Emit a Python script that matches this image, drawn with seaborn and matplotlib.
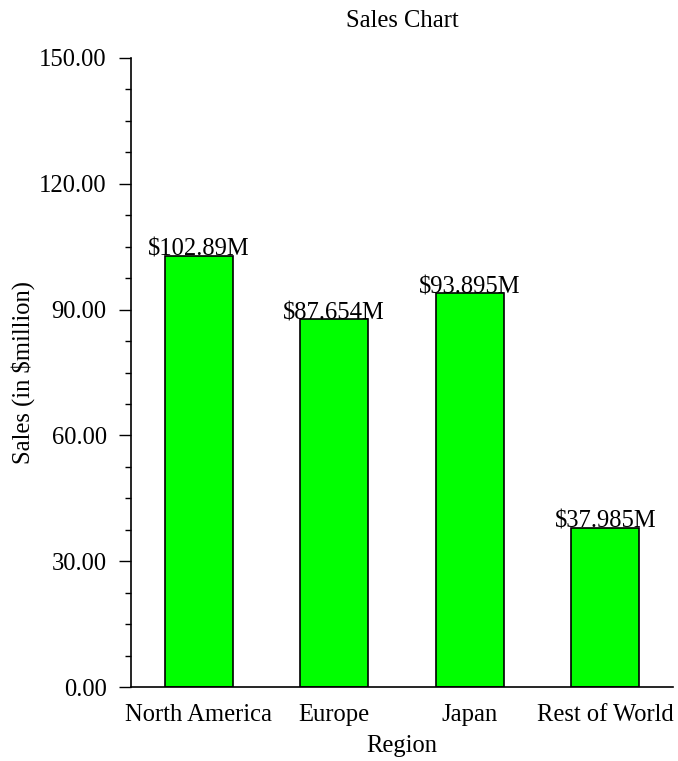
import matplotlib
matplotlib.use('Agg')
import matplotlib.pyplot as plt
from matplotlib.ticker import FormatStrFormatter, AutoMinorLocator
import seaborn as sns
import pandas as pd

regions = ['North America', 'Europe', 'Japan', 'Rest of World']
sales = [102.89, 87.654, 93.895, 37.985]
value_labels = ['$102.89M', '$87.654M', '$93.895M', '$37.985M']
yticks = [0, 30, 60, 90, 120, 150]

sns.set_theme(style='ticks')
plt.rcParams['font.family'] = ['Liberation Serif', 'DejaVu Serif']
plt.rcParams['text.color'] = 'black'
plt.rcParams['axes.labelcolor'] = 'black'
fs = 17.7

df = pd.DataFrame({'Region': regions, 'Sales': sales})

fig = plt.figure(figsize=(6.78, 7.61), dpi=100)
ax = fig.add_axes([131/678, 1 - 687/761, (673-131)/678, (687-58)/761])
sns.barplot(data=df, x='Region', y='Sales', color='#00ff00', saturation=1,
            edgecolor='black', linewidth=1.2, width=0.5, ax=ax)

# value labels sit with their baseline on the bar top
for i, (v, lab) in enumerate(zip(sales, value_labels)):
    ax.text(i, v, lab, ha='center', va='baseline', fontsize=fs, color='black')

ax.set_ylim(0, 150)
ax.set_xlim(-0.5, 3.5)
ax.set_yticks(yticks)
ax.yaxis.set_major_formatter(FormatStrFormatter('%.2f'))
ax.yaxis.set_minor_locator(AutoMinorLocator(4))
ax.tick_params(axis='y', which='major', length=9, width=1, pad=8.5, labelsize=fs, colors='black')
ax.tick_params(axis='y', which='minor', length=4.3, width=1, colors='black')
ax.tick_params(axis='x', length=0, pad=12, labelsize=fs, colors='black')
sns.despine(ax=ax)
for s in ['left', 'bottom']:
    ax.spines[s].set_linewidth(1.2)
    ax.spines[s].set_color('black')

ax.set_title('Sales Chart', fontsize=fs, pad=22, color='black')
ax.set_xlabel('Region', fontsize=fs, labelpad=7, color='black')
ax.set_ylabel('Sales (in $million)', fontsize=fs, labelpad=3, color='black')

fig.savefig('out.png', dpi=100)
